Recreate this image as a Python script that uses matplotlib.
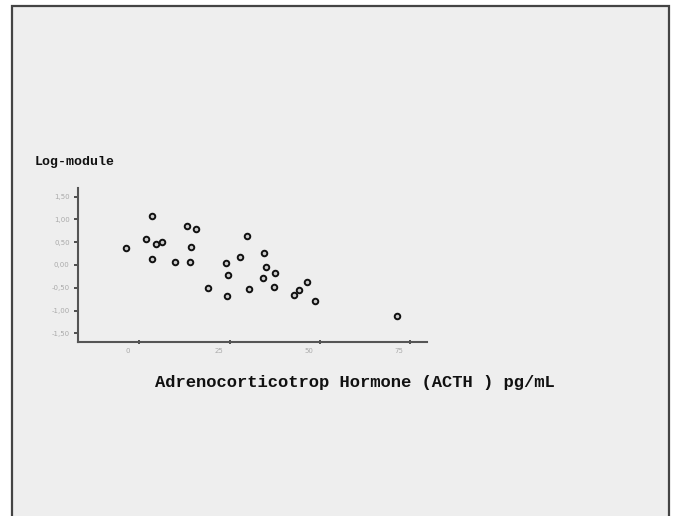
import matplotlib
matplotlib.use("Agg")
import matplotlib.pyplot as plt
from matplotlib.patches import Rectangle
from matplotlib.transforms import ScaledTranslation

# values
acth = [-3.8, 3.6, 1.9, 4.6, 6.4, 3.6, 9.9, 13.2, 15.7, 14.2, 14.0, 19.0, 24.1,
        24.7, 24.3, 27.9, 29.7, 30.5, 34.5, 35.2, 34.3, 37.5, 37.4, 42.9, 44.3,
        46.4, 48.8, 71.4]
log_module = [0.37, 1.08, 0.58, 0.47, 0.50, 0.14, 0.07, 0.85, 0.78, 0.40, 0.07,
              -0.50, 0.04, -0.23, -0.67, 0.17, 0.63, -0.53, 0.27, -0.05, -0.29,
              -0.17, -0.48, -0.65, -0.54, -0.38, -0.79, -1.13]
x_ticks = [0, 25, 50, 75]
y_ticks = [-1.5, -1.0, -0.5, 0.0, 0.5, 1.0, 1.5]
y_tick_labels = ["-1,50", "-1,00", "-0,50", "0,00", "0,50", "1,00", "1,50"]

W, H = 674, 516
fig = plt.figure(figsize=(W / 100, H / 100), dpi=100, facecolor="white")

# grey panel with a dark frame, open at the bottom edge
panel = Rectangle((12 / W, -0.02), (669 - 12) / W, (516 - 6) / H + 0.02,
                  transform=fig.transFigure, facecolor="#eeeeee",
                  edgecolor="#444444", linewidth=1.6, zorder=-10)
fig.patches.append(panel)

ax = fig.add_axes([78 / W, (H - 342) / H, (427 - 78) / W, (342 - 188) / H])
ax.set_facecolor("none")
ax.set_zorder(5)

ax.plot(acth, log_module, linestyle="none", marker="o", markersize=4.0,
        markerfacecolor="#cccccc", markeredgecolor="#111111", markeredgewidth=1.4)

ax.set_xlim(-17, 79.7)
ax.set_ylim(-1.69, 1.69)
ax.set_xticks(x_ticks)
ax.set_xticklabels([str(t) for t in x_ticks])
ax.set_yticks(y_ticks)
ax.set_yticklabels(y_tick_labels)

for side in ["top", "right"]:
    ax.spines[side].set_visible(False)
for side in ["left", "bottom"]:
    ax.spines[side].set_color("#555555")
    ax.spines[side].set_linewidth(1.5)

ax.tick_params(axis="both", length=3, width=1.2, color="#333333",
               labelsize=5, labelcolor="#aaaaaa", pad=3)
ax.tick_params(axis="x", direction="inout")
shift = ScaledTranslation(-8 / 72, 0, fig.dpi_scale_trans)
for lbl in ax.get_xticklabels():
    lbl.set_transform(lbl.get_transform() + shift)

fig.text(35 / W, 1 - 162 / H, "Log-module", fontfamily="Liberation Mono",
         fontweight="bold", fontsize=9.5, color="#111111",
         ha="left", va="center")
fig.text(155 / W, 1 - 382 / H, "Adrenocorticotrop Hormone (ACTH ) pg/mL",
         fontfamily="Liberation Mono", fontweight="bold", fontsize=12.3,
         color="#111111", ha="left", va="center")

fig.savefig("out.png", dpi=100, facecolor="white")
